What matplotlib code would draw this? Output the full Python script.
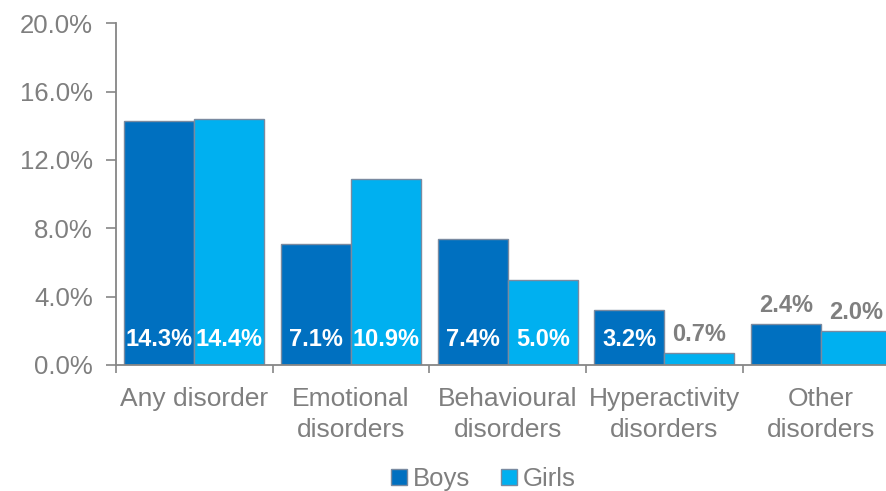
import numpy as np
import matplotlib.pyplot as plt
from matplotlib.lines import Line2D

plt.rcParams['font.family'] = ['Liberation Sans', 'DejaVu Sans']

categories = ['Any disorder', 'Emotional\ndisorders', 'Behavioural\ndisorders',
              'Hyperactivity\ndisorders', 'Other\ndisorders']
boys = [14.3, 7.1, 7.4, 3.2, 2.4]
girls = [14.4, 10.9, 5.0, 0.7, 2.0]
yticks = [0, 4, 8, 12, 16, 20]

boys_color = '#0070C0'
girls_color = '#00B0F0'
grey = '#7F7F7F'
edge = '#7A8AA0'

fig = plt.figure(figsize=(8.86, 4.91), dpi=100)
ax = fig.add_axes([116 / 886, 126 / 491, 783.5 / 886, 341.7 / 491])

x = np.arange(len(categories))
w = 0.447
b1 = ax.bar(x - w / 2, boys, w, color=boys_color, edgecolor=edge, linewidth=1, zorder=2)
b2 = ax.bar(x + w / 2, girls, w, color=girls_color, edgecolor=edge, linewidth=1, zorder=2)

# labels: inside base in white when the bar is tall enough, else above in grey
for bars, vals in [(b1, boys), (b2, girls)]:
    for rect, v in zip(bars, vals):
        cx = rect.get_x() + rect.get_width() / 2
        if v >= 3:
            ax.annotate(f'{v:.1f}%', (cx, 0), xytext=(0, 18.5), textcoords='offset points',
                        ha='center', va='center', color='white', fontsize=17,
                        fontweight='bold', zorder=3)
        else:
            ax.annotate(f'{v:.1f}%', (cx, v), xytext=(0, 13), textcoords='offset points',
                        ha='center', va='center', color=grey, fontsize=17,
                        fontweight='bold', zorder=3)

ax.set_xlim(-0.5, len(categories) - 0.5)
ax.set_ylim(0, 20)
ax.set_yticks(yticks)
ax.set_yticklabels([f'{t:.1f}%' for t in yticks], fontsize=18.5, color=grey)

ax.set_xticks(np.arange(len(categories) + 1) - 0.5)
ax.set_xticklabels([])
ax.set_xticks(x, minor=True)
ax.set_xticklabels(categories, minor=True, fontsize=19, color=grey, linespacing=1.35)
ax.tick_params(axis='x', which='minor', length=0, pad=16)
ax.tick_params(axis='x', which='major', length=6, width=1.2, color='#868686', direction='out')
ax.tick_params(axis='y', length=7, width=1.2, color='#868686', direction='out', pad=9.5)

for side in ['top', 'right']:
    ax.spines[side].set_visible(False)
for side in ['left', 'bottom']:
    ax.spines[side].set_color('#868686')
    ax.spines[side].set_linewidth(1.3)

handles = [Line2D([], [], marker='s', linestyle='none', markersize=11,
                  markerfacecolor=boys_color, markeredgecolor=edge),
           Line2D([], [], marker='s', linestyle='none', markersize=11,
                  markerfacecolor=girls_color, markeredgecolor=edge)]
fig.legend(handles, ['Boys', 'Girls'], loc='center', bbox_to_anchor=(481 / 886, 1 - 479 / 491),
           ncol=2, frameon=False, fontsize=18.5, labelcolor=grey, handletextpad=0.05,
           columnspacing=1.0, handlelength=1.0, borderpad=0)

fig.savefig('out.png', dpi=100)
